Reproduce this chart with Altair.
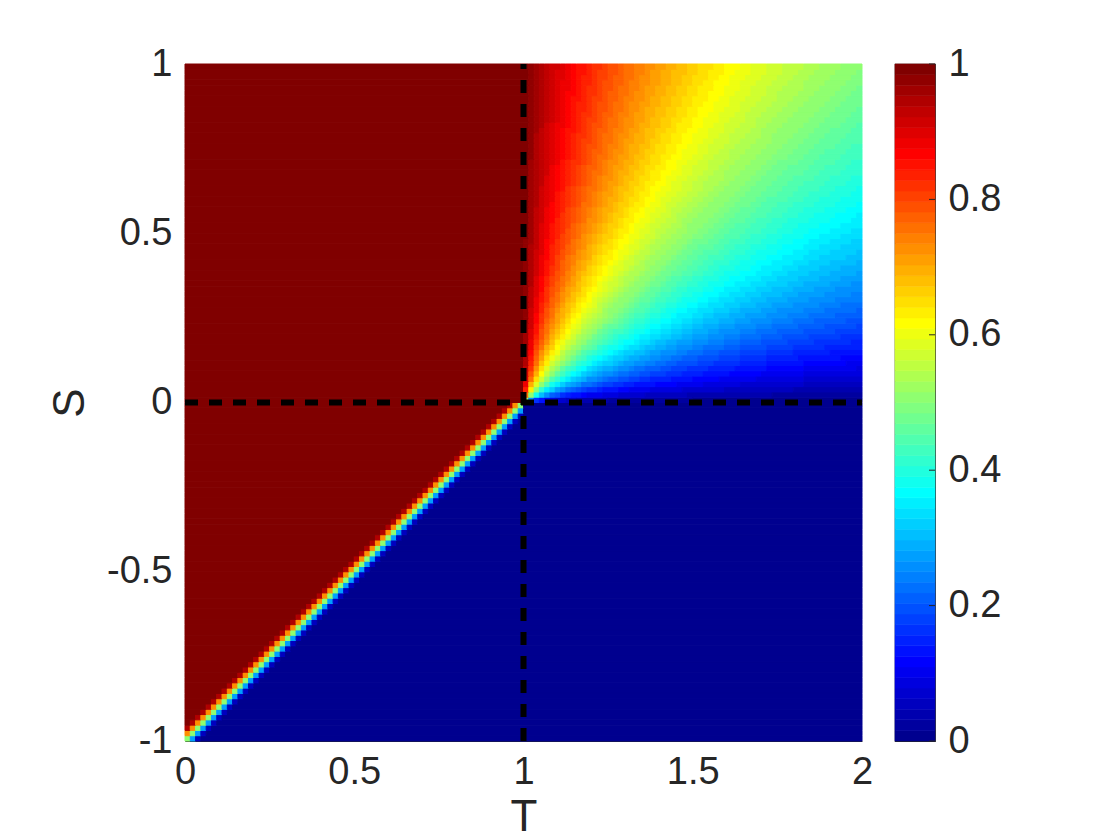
import altair as alt
import numpy as np
import pandas as pd

# ---- chart values -------------------------------------------------------
T_RANGE = [0, 2]
S_RANGE = [-1, 1]
T_TICKS = [0, 0.5, 1, 1.5, 2]
S_TICKS = [-1, -0.5, 0, 0.5, 1]
CB_TICKS = [0, 0.2, 0.4, 0.6, 0.8, 1]
DASH_T = [1]          # vertical dashed line at T = 1
DASH_S = [0]          # horizontal dashed line at S = 0
N_LEVELS = 64         # colour levels (jet(64))
GRID_N = 128          # grid cells per axis
DIAG_WIDTH = 0.07     # width (in S units) of the stag-hunt transition band

# jet(64) colormap anchor points (level index -> colour)
JET_POS = [0, 7, 23, 39, 55, 63]
JET_COLORS = ["#00008f", "#0000ff", "#00ffff", "#ffff00", "#ff0000", "#800000"]

# ---- cooperation level over the (T, S) plane ------------------------------
t_edges = np.linspace(T_RANGE[0], T_RANGE[1], GRID_N + 1)
s_edges = np.linspace(S_RANGE[0], S_RANGE[1], GRID_N + 1)


def level(t, s):
    if t < 1 and s >= 0:          # harmony
        v = 1.0
    elif t >= 1 and s < 0:        # prisoner's dilemma
        v = 0.0
    elif t >= 1 and s >= 0:       # snowdrift: mixed equilibrium
        v = s / (s + t - 1)
    else:                         # stag hunt: bistable, boundary S = T - 1
        v = min(max(0.5 + (s - (t - 1)) / DIAG_WIDTH, 0.0), 1.0)
    return min(int(np.floor(v * N_LEVELS)), N_LEVELS - 1)


rows = []
for j in range(GRID_N):
    s0, s1 = s_edges[j], s_edges[j + 1]
    sc = 0.5 * (s0 + s1)
    run_start = 0
    run_lvl = level(0.5 * (t_edges[0] + t_edges[1]), sc)
    for i in range(1, GRID_N + 1):
        lv = level(0.5 * (t_edges[i] + t_edges[i + 1]), sc) if i < GRID_N else None
        if lv != run_lvl:
            rows.append({"t0": t_edges[run_start], "t1": t_edges[i],
                         "s0": s0, "s1": s1, "lvl": run_lvl})
            run_start, run_lvl = i, lv
heat = pd.DataFrame(rows)

cb = pd.DataFrame({"y0": [k / N_LEVELS for k in range(N_LEVELS)],
                   "y1": [(k + 1) / N_LEVELS for k in range(N_LEVELS)],
                   "lvl": list(range(N_LEVELS))})

# ---- styling -------------------------------------------------------------
FONT = "Liberation Sans"
TXT = "#262626"
color_scale = alt.Scale(domain=JET_POS, range=JET_COLORS, interpolate="rgb")
xs = alt.Scale(domain=T_RANGE, nice=False, zero=False)
ys = alt.Scale(domain=S_RANGE, nice=False, zero=False)

x_axis = alt.Axis(values=T_TICKS, labelExpr="toString(datum.value)", title="T",
                  ticks=False, grid=False, domainColor=TXT, labelPadding=12,
                  titlePadding=4, labelFlush=False)
y_axis = alt.Axis(values=S_TICKS, labelExpr="toString(datum.value)", title="S",
                  ticks=False, grid=False, domainColor=TXT, labelPadding=13,
                  titlePadding=14, labelFlush=False)

heatmap = alt.Chart(heat).mark_rect(strokeWidth=1).encode(
    x=alt.X("t0:Q", scale=xs, axis=x_axis),
    x2="t1:Q",
    y=alt.Y("s0:Q", scale=ys, axis=y_axis),
    y2="s1:Q",
    fill=alt.Fill("lvl:Q", scale=color_scale, legend=None),
    stroke=alt.Stroke("lvl:Q", scale=color_scale, legend=None),
)

vline = alt.Chart(pd.DataFrame({"t": DASH_T})).mark_rule(
    color="black", strokeWidth=6, strokeDash=[13, 11]
).encode(
    x=alt.X("t:Q", title="T"),
    y=alt.datum(S_RANGE[0]),
    y2=alt.datum(S_RANGE[1]),
)

hline = alt.Chart(pd.DataFrame({"s": DASH_S})).mark_rule(
    color="black", strokeWidth=6, strokeDash=[13, 11]
).encode(
    y=alt.Y("s:Q", title="S"),
    x=alt.datum(T_RANGE[0]),
    x2=alt.datum(T_RANGE[1]),
)

main = alt.layer(heatmap, vline, hline).properties(width=677, height=677)

cb_y = alt.Scale(domain=[0, 1], nice=False, zero=False)
cb_rect = alt.Chart(cb).mark_rect(strokeWidth=0.6).encode(
    x=alt.value(0), x2=alt.value(40),
    y=alt.Y("y0:Q", scale=cb_y,
            axis=alt.Axis(orient="right", values=CB_TICKS,
                          labelExpr="toString(datum.value)", title=None,
                          ticks=False, grid=False, domain=False,
                          labelPadding=13, labelFlush=False)),
    y2="y1:Q",
    fill=alt.Fill("lvl:Q", scale=color_scale, legend=None),
    stroke=alt.Stroke("lvl:Q", scale=color_scale, legend=None),
)
cb_ticks = alt.Chart(pd.DataFrame({"v": CB_TICKS})).mark_rule(
    color=TXT, strokeWidth=1
).encode(
    y=alt.Y("v:Q", title=None),
    x=alt.value(34), x2=alt.value(40),
)
colorbar = alt.layer(cb_rect, cb_ticks).properties(
    width=40, height=677,
    view=alt.ViewBackground(stroke=TXT, strokeWidth=1.2),
)

chart = alt.hconcat(main, colorbar, spacing=21).properties(
    padding={"top": 36, "left": 40, "right": 5, "bottom": 5},
    background="white",
).configure_view(stroke=None).configure_axis(
    labelFont=FONT, titleFont=FONT, labelFontSize=38, titleFontSize=44,
    labelColor=TXT, titleColor=TXT, titleFontWeight="normal",
)

chart.save("out.html", embed_options={"renderer": "svg", "actions": False})
